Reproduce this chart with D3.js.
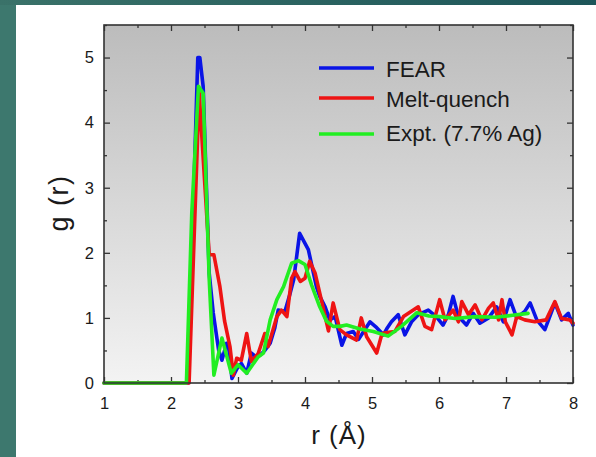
<!DOCTYPE html>
<html>
<head>
<meta charset="utf-8">
<script src="https://cdn.jsdelivr.net/npm/d3@7"></script>
<style>
  body { margin: 0; background: #3d786e; }
  svg { display: block; }
  text { font-family: "Liberation Sans", Arial, sans-serif; fill: #1a1a1a; }
</style>
</head>
<body>
<script>
const width = 596
const height = 457

// g(r) curves
const fearR = [1, 2.26, 2.33, 2.40, 2.43, 2.48, 2.57, 2.63, 2.71, 2.76, 2.83, 2.86, 2.91, 3.0, 3.05, 3.13, 3.20, 3.27, 3.33, 3.40, 3.48, 3.55, 3.60, 3.70, 3.77, 3.83, 3.92, 4.05, 4.17, 4.22, 4.30, 4.37, 4.45, 4.55, 4.62, 4.72, 4.80, 4.88, 4.97, 5.07, 5.17, 5.23, 5.29, 5.39, 5.49, 5.59, 5.69, 5.84, 5.96, 6.06, 6.14, 6.21, 6.29, 6.41, 6.51, 6.61, 6.74, 6.86, 6.96, 7.06, 7.16, 7.28, 7.36, 7.46, 7.58, 7.73, 7.83, 7.93, 8.0]
const fearG = [0, 0, 2.6, 5.0, 5.0, 4.56, 1.69, 1.08, 0.51, 0.35, 0.61, 0.55, 0.07, 0.25, 0.30, 0.15, 0.46, 0.40, 0.43, 0.50, 0.61, 0.85, 1.12, 1.10, 1.35, 1.58, 2.30, 2.05, 1.48, 1.33, 1.17, 0.97, 1.02, 0.58, 0.76, 0.79, 0.67, 0.80, 0.94, 0.85, 0.74, 0.85, 0.94, 1.05, 0.74, 0.94, 1.05, 1.12, 1.02, 0.89, 1.05, 1.33, 1.02, 0.89, 1.07, 0.92, 1.0, 1.17, 0.94, 1.28, 1.0, 1.10, 1.23, 0.97, 0.82, 1.23, 0.97, 1.07, 0.89]

const meltR = [1, 2.27, 2.42, 2.57, 2.64, 2.73, 2.80, 2.88, 2.93, 2.98, 3.05, 3.13, 3.20, 3.30, 3.40, 3.45, 3.58, 3.65, 3.73, 3.80, 3.85, 3.93, 4.0, 4.07, 4.15, 4.25, 4.35, 4.42, 4.52, 4.62, 4.77, 4.84, 4.92, 5.07, 5.15, 5.25, 5.34, 5.47, 5.69, 5.79, 5.89, 6.01, 6.09, 6.21, 6.29, 6.34, 6.44, 6.54, 6.64, 6.74, 6.81, 6.89, 6.94, 6.99, 7.09, 7.16, 7.28, 7.43, 7.60, 7.73, 7.83, 7.95, 8.0]
const meltG = [0, 0, 4.46, 1.97, 1.97, 1.48, 0.95, 0.56, 0.12, 0.38, 0.35, 0.76, 0.33, 0.45, 0.76, 0.56, 1.02, 1.12, 1.02, 1.61, 1.71, 1.56, 1.61, 1.87, 1.69, 1.25, 0.80, 1.23, 0.82, 0.74, 0.66, 1.0, 0.71, 0.46, 0.76, 0.78, 0.79, 1.02, 1.17, 0.87, 0.82, 1.28, 0.97, 1.12, 0.94, 1.25, 1.05, 1.20, 0.97, 1.15, 1.23, 0.97, 1.28, 0.94, 0.74, 1.02, 0.97, 0.94, 0.97, 1.25, 0.99, 0.97, 0.92]

const exptR = [1, 2.23, 2.31, 2.41, 2.48, 2.57, 2.64, 2.76, 2.90, 3.0, 3.13, 3.30, 3.38, 3.48, 3.58, 3.68, 3.80, 3.90, 4.0, 4.10, 4.22, 4.32, 4.42, 4.52, 4.62, 4.82, 5.02, 5.24, 5.44, 5.67, 5.85, 6.01, 6.24, 6.54, 6.84, 7.10, 7.33]
const exptG = [0, 0, 2.61, 4.56, 4.45, 1.60, 0.12, 0.69, 0.15, 0.28, 0.15, 0.40, 0.46, 0.97, 1.28, 1.48, 1.84, 1.88, 1.82, 1.50, 1.17, 0.95, 0.87, 0.87, 0.89, 0.83, 0.79, 0.72, 0.87, 1.08, 1.03, 1.02, 0.99, 1.02, 1.01, 1.04, 1.07]

const seriesNames = ['FEAR', 'Melt-quench', 'Expt. (7.7% Ag)']
const seriesColors = ['#0a14e6', '#ee1414', '#22ee22']
const xTicks = [1, 2, 3, 4, 5, 6, 7, 8]
const yTicks = [0, 1, 2, 3, 4, 5]

const series = [
    {name: seriesNames[0], color: seriesColors[0], pts: fearR.map((r, i) => [r, fearG[i]])},
    {name: seriesNames[1], color: seriesColors[1], pts: meltR.map((r, i) => [r, meltG[i]])},
    {name: seriesNames[2], color: seriesColors[2], pts: exptR.map((r, i) => [r, exptG[i]])}
]

const margin = {left: 104, top: 25, right: 23, bottom: 74}
const plotW = width - margin.left - margin.right
const plotH = height - margin.top - margin.bottom

const svg = d3.select('body')
    .append('svg')
    .attr('width', width)
    .attr('height', height)

const defs = svg.append('defs')
const bgGrad = defs.append('linearGradient')
    .attr('id', 'plotbg')
    .attr('x1', 0).attr('y1', 0).attr('x2', 0).attr('y2', 1)
bgGrad.append('stop').attr('offset', 0).attr('stop-color', '#bcbcbc')
bgGrad.append('stop').attr('offset', 1).attr('stop-color', '#f3f3f3')

const topGrad = defs.append('linearGradient')
    .attr('id', 'topbar')
    .attr('x1', 0).attr('y1', 0).attr('x2', 1).attr('y2', 0)
topGrad.append('stop').attr('offset', 0).attr('stop-color', '#3a7269')
topGrad.append('stop').attr('offset', 1).attr('stop-color', '#1d5559')

// slide background
svg.append('rect').attr('width', width).attr('height', height).attr('fill', '#3d786e')
svg.append('rect').attr('width', width).attr('height', 5).attr('fill', 'url(#topbar)')
svg.append('rect').attr('x', 16).attr('y', 5).attr('width', width - 16).attr('height', height - 5).attr('fill', '#fff')

const x = d3.scaleLinear().domain([1, 8]).range([0, plotW])
const y = d3.scaleLinear().domain([0, 5.5]).range([plotH, 0])

const g = svg.append('g').attr('transform', `translate(${margin.left},${margin.top})`)

g.append('rect')
    .attr('width', plotW)
    .attr('height', plotH)
    .attr('fill', 'url(#plotbg)')

const xMinor = d3.range(1.5, 8, 1)
const yMinor = d3.range(0.5, 5.6, 1)

const styleAxis = sel => {
    sel.select('.domain').remove()
    sel.selectAll('line').attr('stroke', '#333').attr('stroke-width', 1.3)
    sel.selectAll('text').style('font-size', '16.5px').attr('fill', '#111')
}

g.append('g').attr('transform', `translate(0,${plotH})`)
    .call(d3.axisBottom(x).tickValues(xTicks).tickSize(-6).tickPadding(14).tickFormat(d3.format('d')))
    .call(styleAxis)
g.append('g').attr('transform', `translate(0,${plotH})`)
    .call(d3.axisBottom(x).tickValues(xMinor).tickSize(-3).tickFormat(''))
    .call(styleAxis)
g.append('g')
    .call(d3.axisTop(x).tickValues(xTicks).tickSize(-6).tickFormat(''))
    .call(styleAxis)
g.append('g')
    .call(d3.axisTop(x).tickValues(xMinor).tickSize(-3).tickFormat(''))
    .call(styleAxis)

g.append('g')
    .call(d3.axisLeft(y).tickValues(yTicks).tickSize(-6).tickPadding(10).tickFormat(d3.format('d')))
    .call(styleAxis)
g.append('g')
    .call(d3.axisLeft(y).tickValues(yMinor).tickSize(-3).tickFormat(''))
    .call(styleAxis)
g.append('g').attr('transform', `translate(${plotW},0)`)
    .call(d3.axisRight(y).tickValues(yTicks).tickSize(-6).tickFormat(''))
    .call(styleAxis)
g.append('g').attr('transform', `translate(${plotW},0)`)
    .call(d3.axisRight(y).tickValues(yMinor).tickSize(-3).tickFormat(''))
    .call(styleAxis)

const line = d3.line()
    .x(d => x(d[0]))
    .y(d => y(d[1]))

g.append('g')
    .selectAll('path')
    .data(series)
    .enter().append('path')
    .attr('d', d => line(d.pts))
    .attr('fill', 'none')
    .attr('stroke', d => d.color)
    .attr('stroke-width', 3.6)
    .attr('stroke-linejoin', 'round')
    .attr('stroke-linecap', 'round')

// frame
g.append('rect')
    .attr('width', plotW)
    .attr('height', plotH)
    .attr('fill', 'none')
    .attr('stroke', '#333')
    .attr('stroke-width', 1.6)

// legend
const legendLineY = [68, 98, 134]
const legendTextY = [77, 107, 141]
const legend = g.append('g')
    .selectAll('g')
    .data(series)
    .enter().append('g')
    .attr('transform', `translate(${319 - margin.left},${-margin.top})`)
legend.append('line')
    .attr('x1', 0).attr('x2', 55)
    .attr('y1', (d, i) => legendLineY[i])
    .attr('y2', (d, i) => legendLineY[i])
    .attr('stroke', d => d.color)
    .attr('stroke-width', 3.6)
legend.append('text')
    .attr('x', 67)
    .attr('y', (d, i) => legendTextY[i])
    .style('font-size', '22.5px')
    .text(d => d.name)

// axis titles
svg.append('text')
    .attr('x', 339)
    .attr('y', 444)
    .attr('text-anchor', 'middle')
    .style('font-size', '26px')
    .style('letter-spacing', '1px')
    .text('r (Å)')
svg.append('text')
    .attr('transform', 'translate(68,203) rotate(-90)')
    .attr('text-anchor', 'middle')
    .style('font-size', '27px')
    .style('letter-spacing', '1.5px')
    .text('g (r)')
</script>
</body>
</html>
